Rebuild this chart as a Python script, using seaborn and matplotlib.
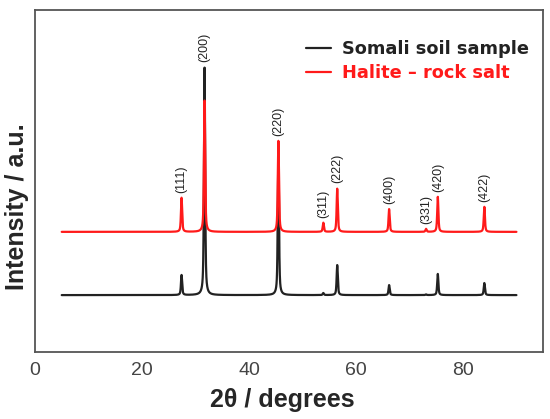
import numpy as np
import pandas as pd
import matplotlib
matplotlib.use("Agg")
import matplotlib.pyplot as plt
import seaborn as sns

# peak list (2theta, relative intensity, % of strongest sample peak)
hkl = ['(111)', '(200)', '(220)', '(311)', '(222)', '(400)', '(331)', '(420)', '(422)']
two_theta = [27.4, 31.7, 45.5, 53.9, 56.5, 66.2, 73.1, 75.3, 84.0]
soil_int = [8.8, 100.0, 66.0, 0.9, 13.2, 4.4, 0.3, 9.3, 5.3]
halite_int = [15.0, 57.7, 40.0, 4.0, 19.0, 10.0, 1.3, 15.4, 11.0]
halite_offset = 27.8
x_start, x_end = 5, 90


def pattern(x, pos, inten, w=0.13):
    y = np.zeros_like(x)
    for p, h in zip(pos, inten):
        lor = 1.0 / (1.0 + ((x - p) / w) ** 2)
        gau = np.exp(-((x - p) / w) ** 2 * np.log(2))
        y += h * (0.6 * lor + 0.4 * gau)
    return y


x = np.arange(x_start, x_end + 0.005, 0.01)
df = pd.DataFrame({
    'two_theta': x,
    'soil': pattern(x, two_theta, soil_int),
    'halite': pattern(x, two_theta, halite_int) + halite_offset,
})

sns.set_style("white")
plt.rcParams['font.family'] = ['Liberation Sans', 'DejaVu Sans']

fig = plt.figure(figsize=(5.5, 4.19), dpi=100)
ax = fig.add_axes([0.0636, 0.16, 0.924, 0.817])

sns.lineplot(data=df, x='two_theta', y='soil', color='#222222', lw=1.6, ax=ax,
             label='Somali soil sample')
sns.lineplot(data=df, x='two_theta', y='halite', color='#ff1a1a', lw=1.6, ax=ax,
             label='Halite \u2013 rock salt')

# hkl labels above peaks
for lab, p, hs, hh in zip(hkl, two_theta, soil_int, halite_int):
    top = max(hs, hh + halite_offset)
    ax.text(p, top + 2.3, lab, rotation=90, ha='center', va='bottom',
            fontsize=9, color='#222222')

ax.set_xlim(0, 95)
ax.set_ylim(-25, 125.5)
ax.set_yticks([])
ax.set_xticks([0, 20, 40, 60, 80])
ax.set_xticks([10, 30, 50, 70, 90], minor=True)
ax.tick_params(axis='x', which='major', direction='out', length=3.5, width=1.2,
               labelsize=14, colors='#555555', labelcolor='#444444', pad=3.5)
ax.tick_params(axis='x', which='minor', direction='out', length=2, width=1.2,
               colors='#555555')
ax.set_xlabel('2\u03b8 / degrees', fontsize=18, fontweight='bold')
ax.set_ylabel('Intensity / a.u.', fontsize=18, fontweight='bold')
ax.xaxis.set_label_coords(0.486, -0.105)
ax.yaxis.set_label_coords(-0.012, 0.423)

for s in ax.spines.values():
    s.set_color('#555555')
    s.set_linewidth(1.3)

leg = ax.legend(loc='upper left', bbox_to_anchor=(0.502, 0.957), frameon=False,
                prop={'family': 'DejaVu Sans', 'weight': 'bold', 'size': 12.8},
                handlelength=1.4, handletextpad=0.6, labelspacing=0.32)
for t, c in zip(leg.get_texts(), ['#222222', '#ff1a1a']):
    t.set_color(c)

fig.savefig('out.png', dpi=100)
